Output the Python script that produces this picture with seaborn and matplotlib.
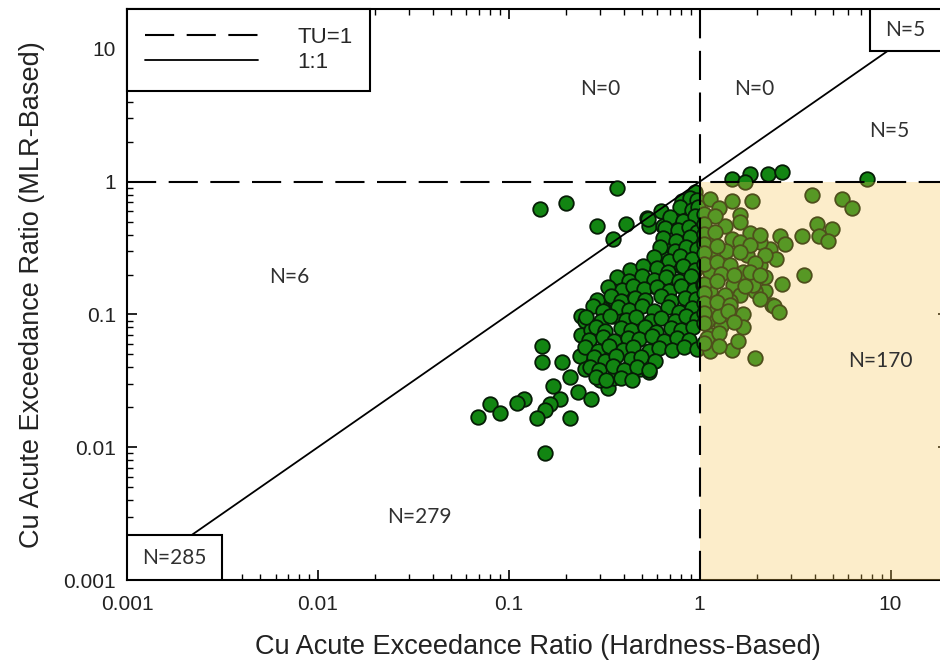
import numpy as np
import pandas as pd
import matplotlib
matplotlib.use("Agg")
import matplotlib.pyplot as plt
import seaborn as sns
from matplotlib.lines import Line2D
from matplotlib.patches import Rectangle
from matplotlib.ticker import FixedLocator, LogLocator, NullFormatter

# ------------------------------------------------------------
# DATA
# ------------------------------------------------------------

# scattered points left of TU=1 (hardness-based < 1)
hard_sparse = [0.145, 0.20, 0.37, 0.29, 0.41, 0.35, 0.53, 0.54, 0.64, 0.63,
               0.81, 0.94, 0.81, 0.77, 0.89, 0.66, 0.89, 0.72, 0.85, 0.94,
               0.67, 0.80, 0.485, 0.62, 0.57, 0.44, 0.37, 0.35, 0.31, 0.35,
               0.24, 0.25, 0.24, 0.27, 0.15, 0.15, 0.19, 0.21, 0.235, 0.17,
               0.23, 0.185, 0.27, 0.164, 0.155, 0.14, 0.21, 0.155, 0.12, 0.11,
               0.08, 0.09, 0.069, 0.33, 0.30, 0.35, 0.25, 0.30, 0.485, 0.54,
               0.43]
mlr_sparse = [0.627, 0.69, 0.89, 0.46, 0.48, 0.37, 0.53, 0.46, 0.46, 0.60,
              0.72, 0.84, 0.63, 0.43, 0.46, 0.35, 0.37, 0.32, 0.30, 0.26,
              0.26, 0.23, 0.21, 0.23, 0.165, 0.165, 0.15, 0.13, 0.11, 0.098,
              0.098, 0.089, 0.07, 0.076, 0.058, 0.044, 0.044, 0.034, 0.049, 0.029,
              0.026, 0.023, 0.023, 0.021, 0.019, 0.0165, 0.0165, 0.009, 0.023, 0.0215,
              0.021, 0.018, 0.017, 0.028, 0.032, 0.033, 0.039, 0.047, 0.039, 0.037,
              0.041]

# dense core left of TU=1
hard_core = [0.887, 0.964,
             0.786, 0.908, 0.976,
             0.535, 0.697, 0.815, 0.942,
             0.656, 0.77, 0.875, 0.97,
             0.64, 0.755, 0.895,
             0.62, 0.74, 0.85, 0.97,
             0.575, 0.69, 0.79, 0.915,
             0.43, 0.505, 0.60, 0.685, 0.82, 0.95,
             0.37, 0.425, 0.50, 0.575, 0.665, 0.775, 0.90,
             0.33, 0.39, 0.445, 0.51, 0.60, 0.69, 0.80, 0.935,
             0.29, 0.345, 0.385, 0.46, 0.52, 0.625, 0.705, 0.84, 0.96,
             0.275, 0.312, 0.372, 0.425, 0.50, 0.575, 0.68, 0.78, 0.91,
             0.255, 0.305, 0.34, 0.41, 0.462, 0.555, 0.625, 0.745, 0.85, 0.97,
             0.285, 0.32, 0.385, 0.435, 0.52, 0.59, 0.705, 0.80, 0.925,
             0.262, 0.31, 0.355, 0.42, 0.48, 0.565, 0.65, 0.765, 0.88,
             0.25, 0.292, 0.335, 0.395, 0.45, 0.54, 0.61, 0.72, 0.83, 0.965,
             0.28, 0.32, 0.365, 0.435, 0.49, 0.585,
             0.268, 0.298, 0.35, 0.40, 0.472, 0.54,
             0.285, 0.322, 0.385, 0.44]
mlr_core = [0.76, 0.73,
            0.64, 0.61, 0.65,
            0.52, 0.54, 0.51, 0.55,
            0.45, 0.43, 0.455, 0.42,
            0.38, 0.36, 0.385,
            0.32, 0.30, 0.325, 0.31,
            0.27, 0.255, 0.275, 0.26,
            0.215, 0.23, 0.225, 0.21, 0.232, 0.218,
            0.19, 0.18, 0.195, 0.183, 0.19, 0.178, 0.196,
            0.16, 0.152, 0.165, 0.155, 0.161, 0.15, 0.163, 0.154,
            0.128, 0.137, 0.126, 0.134, 0.129, 0.138, 0.127, 0.133, 0.13,
            0.115, 0.106, 0.113, 0.108, 0.116, 0.107, 0.114, 0.105, 0.112,
            0.095, 0.09, 0.097, 0.091, 0.096, 0.089, 0.094, 0.09, 0.097, 0.092,
            0.08, 0.075, 0.079, 0.076, 0.081, 0.074, 0.079, 0.077, 0.08,
            0.064, 0.068, 0.063, 0.067, 0.065, 0.069, 0.063, 0.067, 0.064,
            0.057, 0.053, 0.058, 0.054, 0.057, 0.053, 0.056, 0.054, 0.057, 0.055,
            0.048, 0.045, 0.049, 0.046, 0.048, 0.045,
            0.040, 0.038, 0.041, 0.0385, 0.040, 0.038,
            0.034, 0.032, 0.0335, 0.032]

# points right of TU=1 (hardness-based > 1)
hard_exceed = [1.47, 1.83, 1.72, 2.27, 2.7, 7.5, 3.9, 5.6, 6.3, 4.1,
               4.95, 3.45, 4.2, 4.7, 3.5, 1.13, 1.47, 1.87, 1.27, 1.62,
               1.35, 2.62, 2.8, 2.33, 1.83, 1.47, 1.13, 2.06, 2.5, 2.7,
               2.2, 2.4, 1.95, 1.68, 1.3, 1.13, 1.38, 1.76, 2.06, 2.2,
               1.49, 1.9, 1.13, 1.04, 1.27, 1.62, 2.06,
               1.13, 1.44, 1.68, 1.68, 2.45, 2.6, 1.13, 1.3, 1.13,
               1.47, 1.58, 1.95, 1.17, 1.09, 1.27, 1.09,
               1.06, 1.20, 1.06, 1.62, 1.06, 1.20, 2.06, 1.06, 1.24, 1.62,
               1.83, 1.06, 1.62, 2.19, 1.06, 1.23, 1.44, 1.94, 1.30, 1.52,
               1.83, 2.06, 1.06, 1.23, 1.72, 1.06, 1.35, 1.06, 1.24, 1.44,
               1.06, 1.40, 1.06, 1.52, 1.27, 1.06, 1.27]
mlr_exceed = [1.05, 1.15, 1.0, 1.15, 1.19, 1.05, 0.79, 0.745, 0.63, 0.48,
              0.44, 0.39, 0.39, 0.36, 0.2, 0.745, 0.71, 0.71, 0.63, 0.56,
              0.46, 0.39, 0.34, 0.31, 0.41, 0.37, 0.35, 0.35, 0.26, 0.17,
              0.15, 0.117, 0.15, 0.21, 0.22, 0.28, 0.3, 0.28, 0.235, 0.19,
              0.166, 0.166, 0.21, 0.166, 0.13, 0.14, 0.13,
              0.15, 0.126, 0.1, 0.08, 0.115, 0.105, 0.07, 0.082, 0.053,
              0.054, 0.063, 0.047, 0.11, 0.089, 0.098, 0.066,
              0.574, 0.55, 0.483, 0.50, 0.407, 0.42, 0.40, 0.342, 0.33, 0.35,
              0.335, 0.288, 0.295, 0.28, 0.242, 0.25, 0.236, 0.245, 0.203, 0.197,
              0.21, 0.2, 0.171, 0.178, 0.165, 0.144, 0.139, 0.121, 0.125, 0.118,
              0.102, 0.106, 0.0856, 0.088, 0.072, 0.0605, 0.058]

# 1:1 line end points
one_to_one = [0.0022, 9.6]

# axis ticks
tick_vals = [0.001, 0.01, 0.1, 1, 10]
tick_labels = ["0.001", "0.01", "0.1", "1", "10"]

# region counts
count_labels = ["N=0", "N=0", "N=5", "N=6", "N=170", "N=279"]
count_x = [0.30, 1.94, 9.9, 0.0071, 8.8, 0.034]
count_y = [5.0, 5.0, 2.4, 0.19, 0.045, 0.003]

df = pd.DataFrame({
    "hardness": hard_sparse + hard_core + hard_exceed,
    "mlr": mlr_sparse + mlr_core + mlr_exceed,
})

# ------------------------------------------------------------
# PLOT
# ------------------------------------------------------------

sns.set_style("ticks")
plt.rcParams['font.family'] = ['Liberation Sans', 'DejaVu Sans']

fig = plt.figure(figsize=(9.4, 6.66), dpi=100)
ax = fig.add_axes([127 / 940, 86 / 666, 821 / 940, 571 / 666])

sns.scatterplot(
    data=df,
    x="hardness",
    y="mlr",
    s=110,
    color="#128512",
    edgecolor="#061c06",
    linewidth=1.3,
    legend=False,
    zorder=3,
    ax=ax
)

ax.set_xscale("log")
ax.set_yscale("log")
ax.set_xlim(0.001, 20)
ax.set_ylim(0.001, 20)

# exceedance region (hardness > 1, MLR < 1)
ax.add_patch(Rectangle((1, 0.001), 19, 0.999, facecolor="#f8c652",
                       alpha=0.3, lw=0, zorder=4))

dash = (0, (14, 6))
ax.axhline(1, color="k", lw=1.5, ls=dash, zorder=5)
ax.axvline(1, color="k", lw=1.5, ls=dash, zorder=5)
ax.plot(one_to_one, one_to_one, color="k", lw=1.3, zorder=5)

# count boxes in the corners
ax.add_patch(Rectangle((0.001, 0.001), 0.00214, 0.00118, facecolor="white",
                       edgecolor="k", lw=1.5, zorder=6))
ax.text(0.00177, 0.00146, "N=285", ha="center", va="center", fontsize=15,
        family="Lato", color="#303030", zorder=7)
ax.add_patch(Rectangle((7.77, 9.66), 12.23, 10.34, facecolor="white",
                       edgecolor="k", lw=1.5, zorder=6))
ax.text(12.0, 13.8, "N=5", ha="center", va="center", fontsize=15,
        family="Lato", color="#303030", zorder=7)

for lab, cx, cy in zip(count_labels, count_x, count_y):
    ax.text(cx, cy, lab, ha="center", va="center", fontsize=15,
            family="Lato", color="#303030", zorder=7)

# ticks
ax.xaxis.set_major_locator(FixedLocator(tick_vals))
ax.yaxis.set_major_locator(FixedLocator(tick_vals))
ax.set_xticklabels(tick_labels)
ax.set_yticklabels(tick_labels)
ax.xaxis.set_minor_locator(LogLocator(base=10, subs=np.arange(2, 10)))
ax.yaxis.set_minor_locator(LogLocator(base=10, subs=np.arange(2, 10)))
ax.xaxis.set_minor_formatter(NullFormatter())
ax.yaxis.set_minor_formatter(NullFormatter())

ax.tick_params(which="both", direction="in", top=True, right=True,
               colors="k", labelcolor="#222222", labelsize=15)
ax.tick_params(which="major", length=7, width=1.2)
ax.tick_params(which="minor", length=4.5, width=1.0)
ax.tick_params(axis="x", pad=11)
ax.tick_params(axis="y", pad=8)

for sp in ax.spines.values():
    sp.set_linewidth(1.5)
    sp.set_color("k")

ax.set_xlabel("Cu Acute Exceedance Ratio (Hardness-Based)", fontsize=19.5,
              color="#222222", labelpad=14)
ax.set_ylabel("Cu Acute Exceedance Ratio (MLR-Based)", fontsize=19.5,
              color="#222222", labelpad=13)

handles = [
    Line2D([0], [0], color="k", lw=1.5, ls=dash, label="TU=1"),
    Line2D([0], [0], color="k", lw=1.3, label="1:1"),
]
leg = ax.legend(handles=handles, loc="upper left", bbox_to_anchor=(0, 1),
                borderaxespad=0, fancybox=False, framealpha=1, edgecolor="k",
                fontsize=16, handlelength=5.1, handletextpad=1.75,
                borderpad=0.8, labelspacing=0.2)
leg.get_frame().set_linewidth(1.5)
leg.set_zorder(8)

fig.savefig("out.png", dpi=100)
